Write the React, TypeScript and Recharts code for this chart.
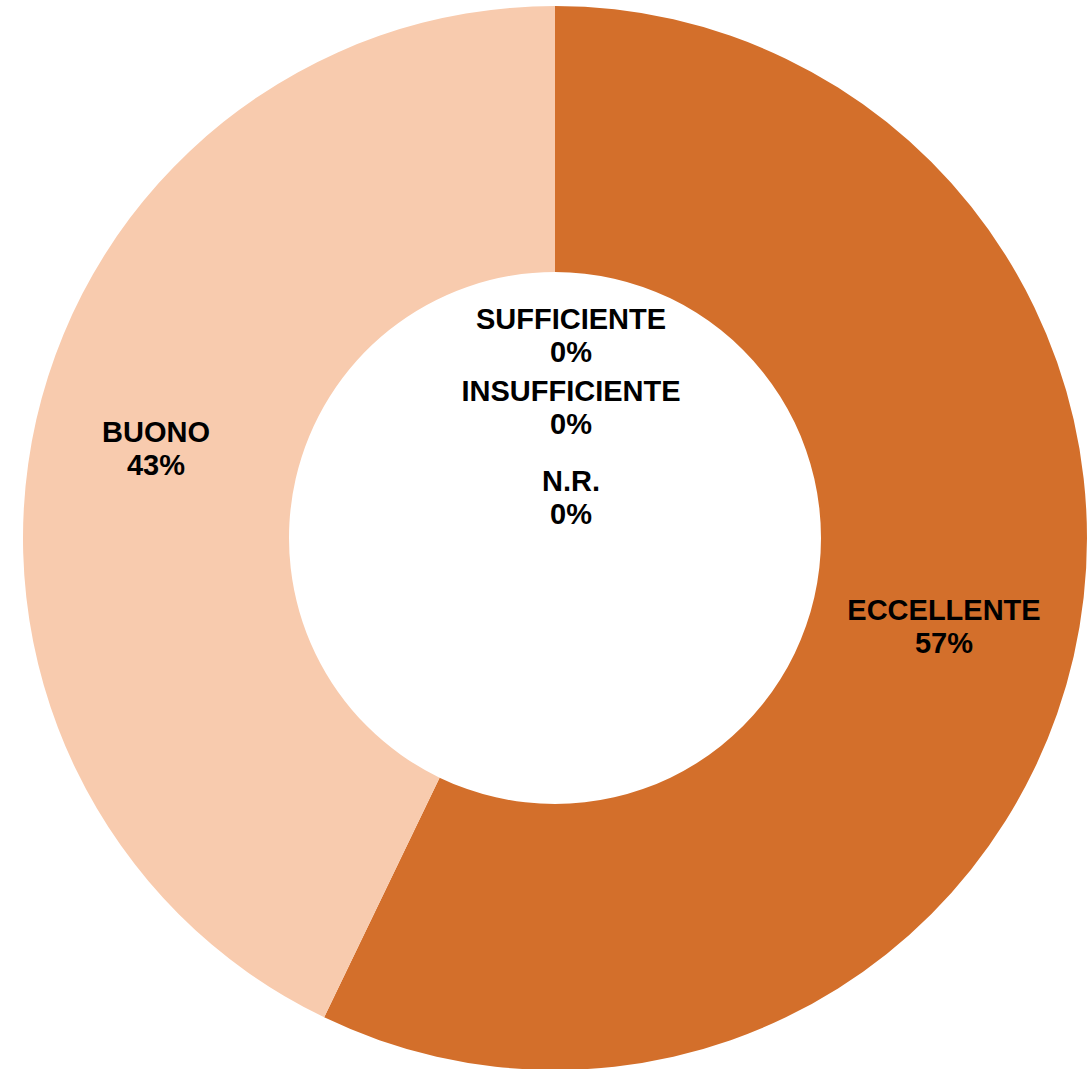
import React from "react";
import { PieChart, Pie, Cell } from "recharts";

const categories = ["ECCELLENTE", "BUONO", "SUFFICIENTE", "INSUFFICIENTE", "N.R."];
const values = [4, 3, 0, 0, 0];
const percentLabels = ["57%", "43%", "0%", "0%", "0%"];
const colors = ["#D36F2B", "#F8CBAE", "#E8A070", "#B0501A", "#999999"];

const data = categories.map((name, i) => ({ name, value: values[i], pct: percentLabels[i] }));

// offsets of the stacked zero-value labels (Excel piles them at the start angle)
const zeroLabelOffsets: Record<number, number> = { 2: -202, 3: -130, 4: -40 };

const FONT = "'Liberation Sans', Arial, sans-serif";

function renderLabel(props: any) {
  const { cx, cy, midAngle, innerRadius, outerRadius, index } = props;
  const d = data[index];
  let x: number;
  let y: number;
  if (d.value > 0) {
    const r = (innerRadius + outerRadius) / 2;
    const rad = (-midAngle * Math.PI) / 180;
    x = cx + r * Math.cos(rad);
    y = cy + r * Math.sin(rad);
    // Excel nudges the left label a bit outward
    if (x < cx) x -= 10;
  } else {
    x = cx + 16;
    y = cy + (zeroLabelOffsets[index] ?? 0);
  }
  return (
    <text
      key={`lbl-${index}`}
      x={x}
      y={y - 17}
      textAnchor="middle"
      dominantBaseline="central"
      fontFamily={FONT}
      fontWeight="bold"
      fontSize={29}
      fill="#000"
    >
      <tspan x={x}>{d.name}</tspan>
      <tspan x={x} dy={33}>
        {d.pct}
      </tspan>
    </text>
  );
}

export default function App() {
  return (
    <div style={{ position: "absolute", left: 0, top: 0, width: 1090, height: 1069, background: "#fff" }}>
      <PieChart width={1090} height={1069} margin={{ top: 0, right: 0, bottom: 0, left: 0 }}>
        <Pie
          data={data}
          dataKey="value"
          nameKey="name"
          cx={555}
          cy={538}
          innerRadius={266}
          outerRadius={532}
          startAngle={90}
          endAngle={-270}
          stroke="none"
          labelLine={false}
          label={renderLabel}
          isAnimationActive={false}
        >
          {data.map((d, i) => (
            <Cell key={d.name} fill={colors[i]} />
          ))}
        </Pie>
      </PieChart>
    </div>
  );
}
